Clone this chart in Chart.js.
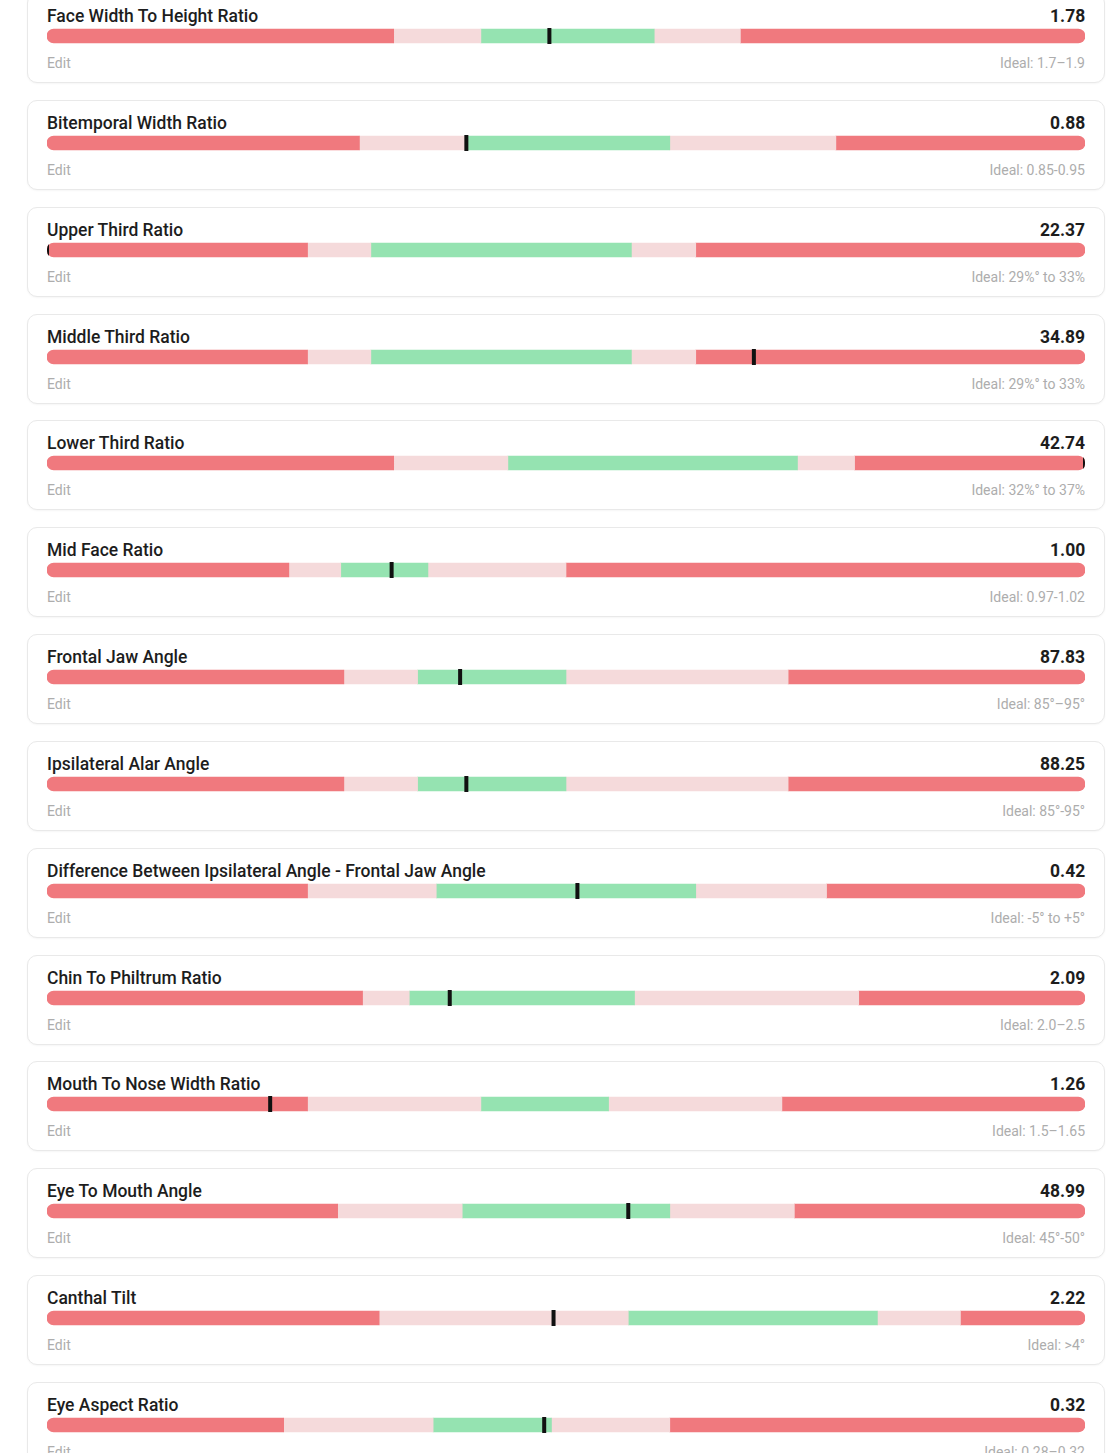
<!DOCTYPE html>
<html>
<head>
<meta charset="utf-8">
<script src="https://cdn.jsdelivr.net/npm/chart.js@4.4.1/dist/chart.umd.min.js"></script>
<style>
  html, body { margin: 0; padding: 0; background: #fff; overflow: hidden; }
  body { width: 1112px; height: 1453px; font-family: Roboto, "Noto Sans", sans-serif; }
  #list { margin-top: -7px; }
  .card {
    position: relative;
    box-sizing: border-box;
    width: 1078px;
    height: 90px;
    margin: 0 0 16.85px 27px;
    border: 1px solid #e9e9e9;
    border-radius: 10px;
    box-shadow: 0 1px 2px rgba(0,0,0,0.04);
    background: #fff;
  }
  .title, .value {
    position: absolute;
    top: 11px;
    font-size: 19px;
    line-height: 22px;
    color: #1d1d1d;
    white-space: nowrap;
  }
  .title { left: 19px; font-weight: 500; transform: scaleX(0.92); transform-origin: left center; }
  .value { right: 19px; font-weight: 700; transform: scaleX(0.92); transform-origin: right center; }
  .bar { position: absolute; left: 19px; top: 32px; }
  .edit, .ideal {
    position: absolute;
    top: 61px;
    font-size: 14px;
    line-height: 16px;
    color: #adadad;
    white-space: nowrap;
  }
  .edit { left: 19px; }
  .ideal { right: 19px; }
</style>
</head>
<body>
<div id="list"></div>
<script>
// measurements, bar positions read as % of the bar length
const titles = [
  'Face Width To Height Ratio', 'Bitemporal Width Ratio', 'Upper Third Ratio',
  'Middle Third Ratio', 'Lower Third Ratio', 'Mid Face Ratio', 'Frontal Jaw Angle',
  'Ipsilateral Alar Angle', 'Difference Between Ipsilateral Angle - Frontal Jaw Angle',
  'Chin To Philtrum Ratio', 'Mouth To Nose Width Ratio', 'Eye To Mouth Angle',
  'Canthal Tilt', 'Eye Aspect Ratio'
];
const values = ['1.78', '0.88', '22.37', '34.89', '42.74', '1.00', '87.83', '88.25',
  '0.42', '2.09', '1.26', '48.99', '2.22', '0.32'];
const ideals = [
  'Ideal: 1.7\u20131.9', 'Ideal: 0.85-0.95', 'Ideal: 29%\u00b0 to 33%', 'Ideal: 29%\u00b0 to 33%',
  'Ideal: 32%\u00b0 to 37%', 'Ideal: 0.97-1.02', 'Ideal: 85\u00b0\u201395\u00b0', 'Ideal: 85\u00b0-95\u00b0',
  'Ideal: -5\u00b0 to +5\u00b0', 'Ideal: 2.0\u20132.5', 'Ideal: 1.5\u20131.65', 'Ideal: 45\u00b0-50\u00b0',
  'Ideal: >4\u00b0', 'Ideal: 0.28\u20130.32'
];

// zone boundaries (0 -> lowRedEnd red, -> lowPinkEnd pink, -> greenEnd green, -> highPinkEnd pink, -> 100 red)
const lowRedEnd   = [33.4, 30.1, 25.1, 25.1, 33.4, 23.3, 28.6, 28.6, 25.1, 30.4, 25.1, 28.0, 32.0, 22.8];
const lowPinkEnd  = [41.8, 40.5, 31.2, 31.2, 44.4, 28.3, 35.7, 35.7, 37.5, 34.9, 41.8, 40.0, 56.0, 37.2];
const greenEnd    = [58.5, 60.0, 56.3, 56.3, 72.3, 36.7, 50.0, 50.0, 62.5, 56.6, 54.1, 60.0, 80.0, 48.6];
const highPinkEnd = [66.8, 76.0, 62.5, 62.5, 77.8, 50.0, 71.4, 71.4, 75.1, 78.2, 70.8, 72.0, 88.0, 60.0];
const markers     = [48.4, 40.4, 0, 68.1, 100, 33.2, 39.8, 40.4, 51.1, 38.8, 21.5, 56.0, 48.8, 47.9];

const RED = '#f0797e';
const PINK = '#f5dadb';
const GREEN = '#95e3b1';

const markerPlugin = {
  id: 'marker',
  afterDatasetsDraw(chart, args, opts) {
    const ctx = chart.ctx;
    const x = chart.scales.x.getPixelForValue(opts.value);
    const yc = chart.scales.y.getPixelForValue(0);
    const left = chart.scales.x.getPixelForValue(0);
    const right = chart.scales.x.getPixelForValue(100);
    ctx.save();
    // keep the marker inside the rounded bar
    ctx.beginPath();
    ctx.roundRect(left, yc - 8, right - left, 16, 7);
    ctx.clip();
    ctx.fillStyle = '#111';
    ctx.fillRect(x - 2, yc - 8, 4, 16);
    ctx.restore();
  }
};

const list = document.getElementById('list');

titles.forEach((title, i) => {
  const card = document.createElement('div');
  card.className = 'card';
  card.innerHTML =
    '<div class="title"></div><div class="value"></div>' +
    '<canvas class="bar" width="1038" height="20"></canvas>' +
    '<div class="edit">Edit</div><div class="ideal"></div>';
  card.querySelector('.title').textContent = title;
  card.querySelector('.value').textContent = values[i];
  card.querySelector('.ideal').textContent = ideals[i];
  list.appendChild(card);

  const widths = [
    lowRedEnd[i],
    lowPinkEnd[i] - lowRedEnd[i],
    greenEnd[i] - lowPinkEnd[i],
    highPinkEnd[i] - greenEnd[i],
    100 - highPinkEnd[i]
  ];
  const colors = [RED, PINK, GREEN, PINK, RED];
  // only the two outer ends are rounded
  const radii = [
    { topLeft: 7, bottomLeft: 7, topRight: 0, bottomRight: 0 },
    0, 0, 0,
    { topLeft: 0, bottomLeft: 0, topRight: 7, bottomRight: 7 }
  ];

  new Chart(card.querySelector('canvas').getContext('2d'), {
    type: 'bar',
    data: {
      labels: [''],
      datasets: widths.map((w, k) => ({
        data: [w],
        backgroundColor: colors[k],
        borderWidth: 0,
        borderRadius: radii[k],
        borderSkipped: false,
        barThickness: 14
      }))
    },
    options: {
      indexAxis: 'y',
      responsive: false,
      animation: false,
      events: [],
      layout: { padding: 0 },
      scales: {
        x: { stacked: true, min: 0, max: 100, display: false },
        y: { stacked: true, display: false }
      },
      plugins: {
        legend: { display: false },
        tooltip: { enabled: false },
        marker: { value: markers[i] }
      }
    },
    plugins: [markerPlugin]
  });
});
</script>
</body>
</html>
